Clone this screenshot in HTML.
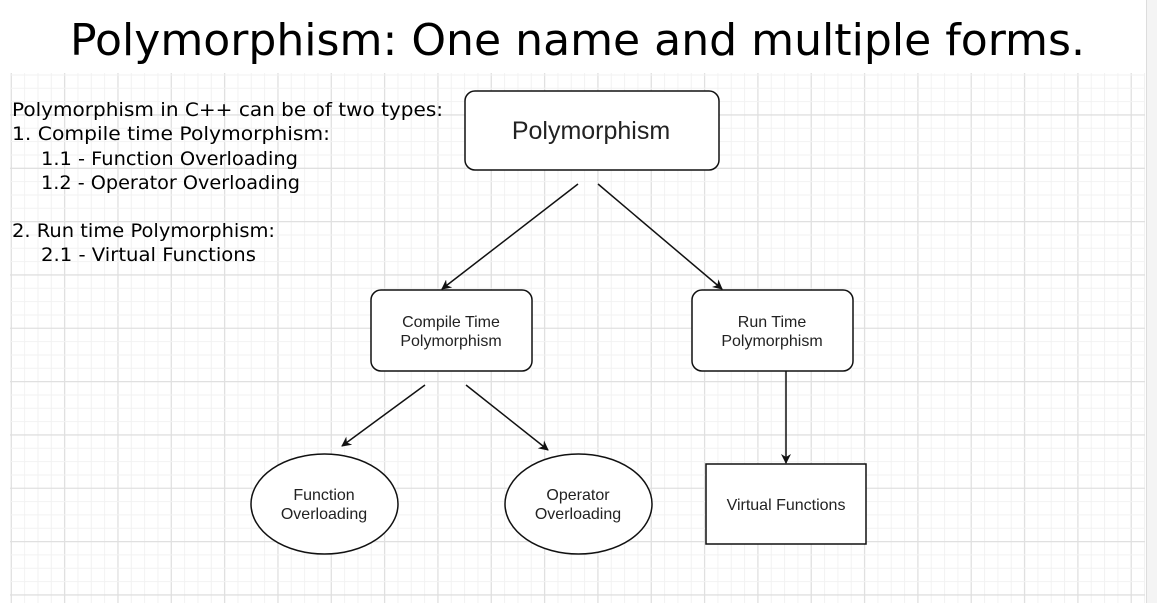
<!DOCTYPE html>
<html><head><meta charset="utf-8"><style>
html,body{margin:0;padding:0;background:#fff;width:1157px;height:603px;overflow:hidden}
svg{display:block}
</style></head><body>
<svg width="1157" height="603" viewBox="0 0 1157 603" xmlns="http://www.w3.org/2000/svg">
<defs>
<marker id="ah" markerWidth="10" markerHeight="10" refX="9" refY="5" orient="auto" markerUnits="userSpaceOnUse"><path d="M0,0 L10,5 L0,10 L3,5 Z" fill="#111"/></marker>
</defs>
<rect x="0" y="0" width="1157" height="603" fill="#fff"/>
<g id="grid"></g>
<rect x="1146" y="0" width="11" height="603" fill="#f4f4f4"/>
<line x1="1146.5" y1="0" x2="1146.5" y2="603" stroke="#ddd"/>
<text x="70" y="55" textLength="1015" lengthAdjust="spacingAndGlyphs" font-family="'DejaVu Sans','Liberation Sans',sans-serif" font-size="44" fill="#000">Polymorphism: One name and multiple forms.</text>
<g font-family="'DejaVu Sans','Liberation Sans',sans-serif" font-size="19" fill="#000">
<text x="12" y="116" textLength="431" lengthAdjust="spacingAndGlyphs">Polymorphism in C++ can be of two types:</text>
<text x="12" y="140" textLength="318" lengthAdjust="spacingAndGlyphs">1. Compile time Polymorphism:</text>
<text x="41" y="165" textLength="257" lengthAdjust="spacingAndGlyphs">1.1 - Function Overloading</text>
<text x="41" y="189" textLength="259" lengthAdjust="spacingAndGlyphs">1.2 - Operator Overloading</text>
<text x="12" y="237" textLength="263" lengthAdjust="spacingAndGlyphs">2. Run time Polymorphism:</text>
<text x="41" y="261" textLength="215" lengthAdjust="spacingAndGlyphs">2.1 - Virtual Functions</text>
</g>
<g stroke="#111" stroke-width="1.5" fill="#fff">
<rect x="465" y="91" width="254" height="79" rx="10"/>
<rect x="371" y="290" width="161" height="81" rx="10"/>
<rect x="692" y="290" width="161" height="81" rx="10"/>
<ellipse cx="324.5" cy="504" rx="73.5" ry="50"/>
<ellipse cx="578.5" cy="504" rx="73.5" ry="50"/>
<rect x="706" y="464" width="160" height="80"/>
</g>
<g stroke="#111" stroke-width="1.5" marker-end="url(#ah)">
<line x1="578" y1="184" x2="442" y2="289"/>
<line x1="598" y1="184" x2="722" y2="289"/>
<line x1="425" y1="385" x2="342" y2="446"/>
<line x1="466" y1="385" x2="548" y2="450"/>
<line x1="786" y1="371" x2="786" y2="463"/>
</g>
<g font-family="'Liberation Sans',sans-serif" fill="#222" text-anchor="middle">
<text x="591" y="139" font-size="25">Polymorphism</text>
<text x="451" y="327" font-size="16">Compile Time</text>
<text x="451" y="346" font-size="16">Polymorphism</text>
<text x="772" y="327" font-size="16">Run Time</text>
<text x="772" y="346" font-size="16">Polymorphism</text>
<text x="324" y="500" font-size="16">Function</text>
<text x="324" y="519" font-size="16">Overloading</text>
<text x="578" y="500" font-size="16">Operator</text>
<text x="578" y="519" font-size="16">Overloading</text>
<text x="786" y="510" font-size="16">Virtual Functions</text>
</g>
</svg>
<script>
var g=document.getElementById('grid');
var ns='http://www.w3.org/2000/svg';
var step=53.33/4, x0=11.3, y0=8.3;
for(var i=-4;i<90;i++){
  var x=x0+i*step; if(x<10||x>1145) continue;
  var l=document.createElementNS(ns,'line');
  l.setAttribute('x1',x);l.setAttribute('x2',x);l.setAttribute('y1',73);l.setAttribute('y2',603);
  l.setAttribute('stroke',i%4==0?'#e0e0e0':'#f2f2f2');l.setAttribute('stroke-width',i%4==0?1.3:1);
  
  
  g.appendChild(l);
}
for(var j=-4;j<50;j++){
  var y=y0+j*step; if(y<73||y>603) continue;
  var m=document.createElementNS(ns,'line');
  m.setAttribute('x1',10);m.setAttribute('x2',1145);m.setAttribute('y1',y);m.setAttribute('y2',y);
  m.setAttribute('stroke',j%4==0?'#e0e0e0':'#f2f2f2');m.setAttribute('stroke-width',j%4==0?1.3:1);
  
  
  g.appendChild(m);
}
</script>
</body></html>
